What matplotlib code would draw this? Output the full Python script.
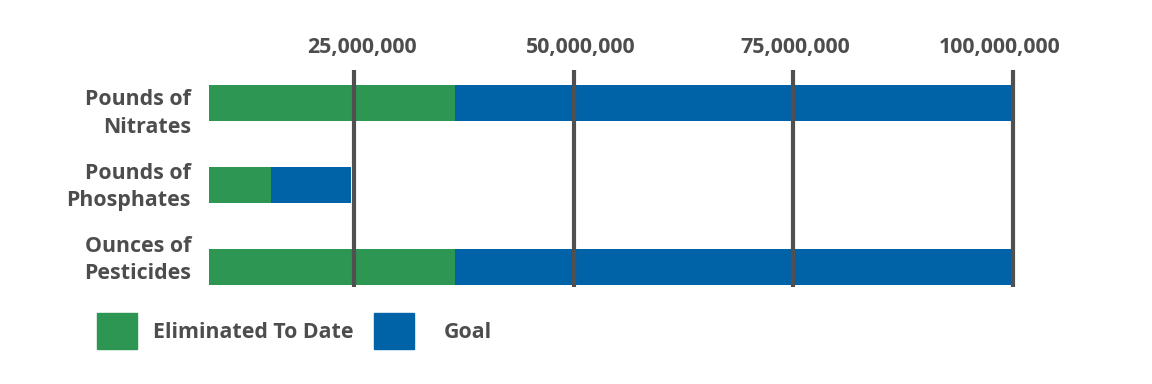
import matplotlib
matplotlib.use("Agg")
import matplotlib.pyplot as plt
from matplotlib.patches import Rectangle
from matplotlib.ticker import FuncFormatter
from matplotlib.transforms import ScaledTranslation

categories = ["Pounds of\nNitrates", "Pounds of\nPhosphates", "Ounces of\nPesticides"]
eliminated = [36_500_000, 15_600_000, 36_500_000]
goal_total = [100_000_000, 24_700_000, 100_000_000]
ticks = [25_000_000, 50_000_000, 75_000_000, 100_000_000]
legend_labels = ["Eliminated To Date", "Goal"]

GREEN = "#2D9653"
BLUE = "#0062A7"
TEXT = "#4D4D4D"
GRID = "#505050"
FS = 15.4

plt.rcParams["font.family"] = ["Open Sans", "DejaVu Sans"]

W, H = 1152, 384
fig = plt.figure(figsize=(W / 100, H / 100), dpi=100)

left, right, top, bottom = 209, 1030, 70, 287
ax = fig.add_axes([left / W, 1 - bottom / H, (right - left) / W, (bottom - top) / H])

px_per_unit = (1013 - 354) / 75_000_000
x0 = 25_000_000 - (354 - left) / px_per_unit
x1 = 100_000_000 + (right - 1013) / px_per_unit

ypos = list(range(len(categories)))
remaining = [g - e for g, e in zip(goal_total, eliminated)]
ax.barh(ypos, eliminated, height=0.44, color=GREEN, zorder=2)
ax.barh(ypos, remaining, left=eliminated, height=0.44, color=BLUE, zorder=2)

for t in ticks:
    ax.axvline(t, color=GRID, linewidth=3.0, zorder=3)

ax.set_xlim(x0, x1)
ax.set_ylim(2.244, -0.402)
ax.set_xticks(ticks)
ax.xaxis.set_major_formatter(FuncFormatter(lambda v, p: f"{int(v):,}"))
ax.xaxis.tick_top()
ax.set_yticks(ypos)
ax.set_yticklabels(categories, linespacing=1.38)
ax.tick_params(axis="x", length=0, pad=9, labelsize=FS, labelcolor=TEXT)
ax.tick_params(axis="y", length=0, pad=13, labelsize=FS, labelcolor=TEXT)
for lab in ax.get_xticklabels() + ax.get_yticklabels():
    lab.set_fontweight("bold")
for s in ax.spines.values():
    s.set_visible(False)

# small per-label shifts (pixels) to mimic the reference label placement
x_shift = [8, 7, 2, -13]
for lab, dx in zip(ax.get_xticklabels(), x_shift):
    lab.set_transform(lab.get_transform() + ScaledTranslation(dx / 100, 0, fig.dpi_scale_trans))
y_shift = [-5, 3.5, 12.5]  # positive = up
for lab, dy in zip(ax.get_yticklabels(), y_shift):
    lab.set_transform(lab.get_transform() + ScaledTranslation(0, dy / 100, fig.dpi_scale_trans))

# legend drawn manually
colors = [GREEN, BLUE]
sq_x = [97, 374]
txt_x = [153, 444]
for c, sx, tx, lab in zip(colors, sq_x, txt_x, legend_labels):
    fig.add_artist(Rectangle((sx / W, 1 - 349 / H), 40 / W, 36 / H,
                             transform=fig.transFigure, color=c))
    fig.text(tx / W, 1 - 333 / H, lab, ha="left", va="center", fontsize=FS,
             fontweight="bold", color=TEXT)

fig.savefig("out.png", dpi=100, facecolor="white")
